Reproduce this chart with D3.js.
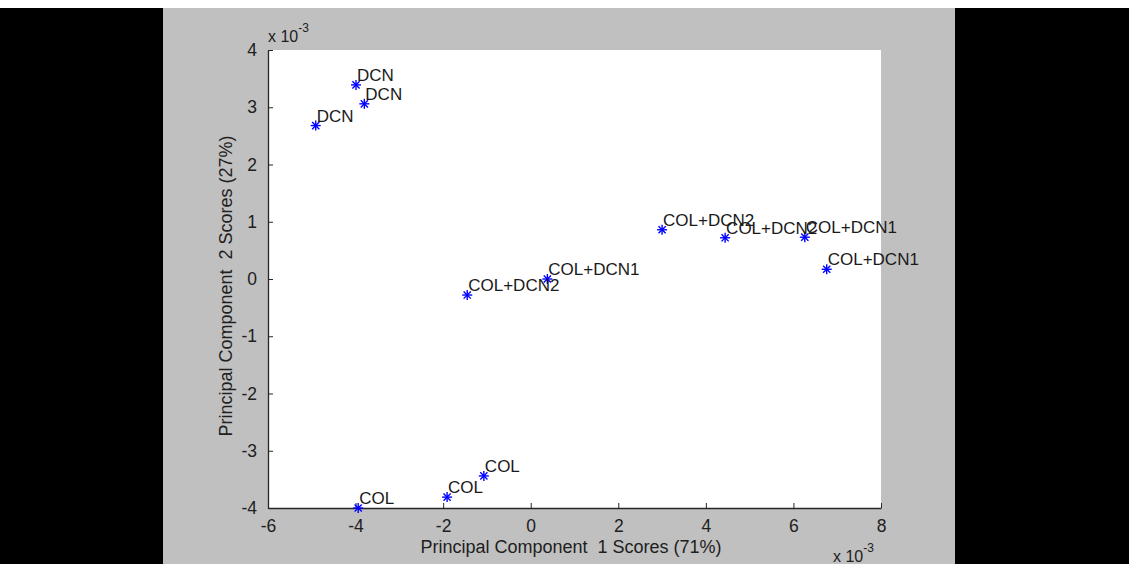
<!DOCTYPE html>
<html>
<head>
<meta charset="utf-8">
<script src="https://cdn.jsdelivr.net/npm/d3@7"></script>
<style>
  html, body { margin: 0; padding: 0; background: #fff; }
  svg { display: block; }
  text { font-family: "Liberation Sans", Arial, sans-serif; }
</style>
</head>
<body>
<svg id="chart" width="1129" height="564"></svg>
<script>
// Scores in units of 1e-3
const pc1Scores = [-3.99, -3.80, -4.91, -1.45, 0.38, 3.00, 4.44, 6.26, 6.76, -3.94, -1.91, -1.07];
const pc2Scores = [3.39, 3.06, 2.68, -0.28, 0.00, 0.86, 0.72, 0.73, 0.17, -4.00, -3.81, -3.44];
const sampleLabels = ["DCN", "DCN", "DCN", "COL+DCN2", "COL+DCN1", "COL+DCN2", "COL+DCN2", "COL+DCN1", "COL+DCN1", "COL", "COL", "COL"];
const xTicks = [-6, -4, -2, 0, 2, 4, 6, 8];
const yTicks = [-4, -3, -2, -1, 0, 1, 2, 3, 4];
const xLabelText = "Principal Component  1 Scores (71%)";
const yLabelText = "Principal Component  2 Scores (27%)";

const svg = d3.select("#chart");
const W = 1129, H = 564;

// frame: white top strip, black side bars, gray figure
svg.append("rect").attr("x", 0).attr("y", 0).attr("width", W).attr("height", H).attr("fill", "#ffffff");
svg.append("rect").attr("x", 0).attr("y", 8).attr("width", 163).attr("height", H - 8).attr("fill", "#000");
svg.append("rect").attr("x", 955).attr("y", 8).attr("width", W - 955).attr("height", H - 8).attr("fill", "#000");
svg.append("rect").attr("x", 163).attr("y", 8).attr("width", 792).attr("height", H - 8).attr("fill", "#c0c0c0");

const L = 268, R = 881, T = 50, B = 508;
const x = d3.scaleLinear().domain([-6, 8]).range([L, R]);
const y = d3.scaleLinear().domain([-4, 4]).range([B, T]);

svg.append("rect").attr("x", L).attr("y", T).attr("width", R - L).attr("height", B - T).attr("fill", "#fff");

const fmt = d => String(d);
const axColor = "#262626";
const xAxis = d3.axisBottom(x).tickValues(xTicks).tickFormat(fmt).tickSizeInner(-5).tickSizeOuter(0).tickPadding(12);
const gx = svg.append("g").attr("transform", `translate(0,${B})`).call(xAxis);
gx.select(".domain").attr("stroke", axColor).attr("stroke-width", 1.3);
gx.selectAll(".tick line").attr("stroke", axColor);
gx.selectAll(".tick text").attr("font-size", 17.5).attr("fill", "#202020")
  .attr("font-family", "Liberation Sans, Arial, sans-serif");

const yAxis = d3.axisLeft(y).tickValues(yTicks).tickFormat(fmt).tickSizeInner(-5).tickSizeOuter(0).tickPadding(11);
const gy = svg.append("g").attr("transform", `translate(${L},0)`).call(yAxis);
gy.select(".domain").attr("stroke", axColor).attr("stroke-width", 1.3);
gy.selectAll(".tick line").attr("stroke", axColor);
gy.selectAll(".tick text").attr("font-size", 17.5).attr("fill", "#202020")
  .attr("font-family", "Liberation Sans, Arial, sans-serif");

// exponent labels
const expTop = svg.append("text").attr("x", 268).attr("y", 42).attr("font-size", 16).attr("fill", "#202020");
expTop.append("tspan").text("x 10");
expTop.append("tspan").attr("dy", -10).attr("font-size", 12).text("-3");

const expBot = svg.append("text").attr("x", 833).attr("y", 562).attr("font-size", 16).attr("fill", "#202020");
expBot.append("tspan").text("x 10");
expBot.append("tspan").attr("dy", -10).attr("font-size", 12).text("-3");

// axis labels
svg.append("text").attr("x", 571).attr("y", 553).attr("text-anchor", "middle")
  .attr("font-size", 18).attr("fill", "#202020").style("white-space", "pre").text(xLabelText);
svg.append("text").attr("transform", "translate(232,286) rotate(-90)").attr("text-anchor", "middle")
  .attr("font-size", 18).attr("fill", "#202020").style("white-space", "pre").text(yLabelText);

// data
const data = pc1Scores.map((v, i) => ({ px: v, py: pc2Scores[i], label: sampleLabels[i] }));

const m = 5, md = 3.6;
const markers = svg.append("g").attr("stroke", "#0000ff").attr("stroke-width", 1.4);
data.forEach(d => {
  const cx = x(d.px), cy = y(d.py);
  const g = markers.append("g");
  g.append("line").attr("x1", cx - m).attr("x2", cx + m).attr("y1", cy).attr("y2", cy);
  g.append("line").attr("x1", cx).attr("x2", cx).attr("y1", cy - m).attr("y2", cy + m);
  g.append("line").attr("x1", cx - md).attr("x2", cx + md).attr("y1", cy - md).attr("y2", cy + md);
  g.append("line").attr("x1", cx - md).attr("x2", cx + md).attr("y1", cy + md).attr("y2", cy - md);
});

svg.append("g").selectAll("text").data(data).join("text")
  .attr("x", d => x(d.px) + 1)
  .attr("y", d => y(d.py) - 4)
  .attr("font-size", 17)
  .attr("fill", "#1a1a1a")
  .text(d => d.label);
</script>
</body>
</html>
